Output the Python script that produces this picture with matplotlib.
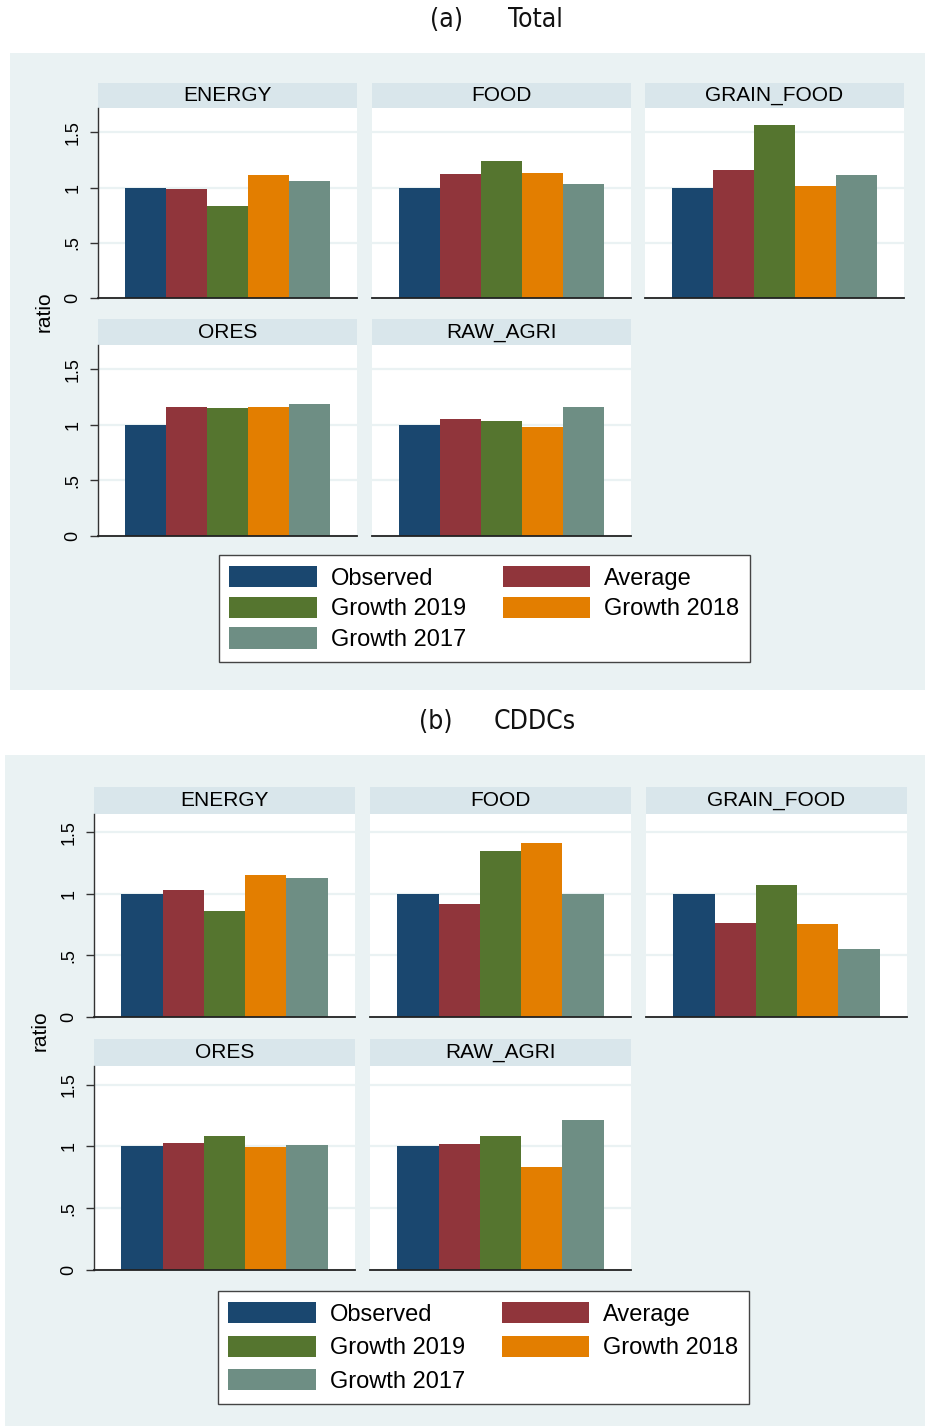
import matplotlib.pyplot as plt
from matplotlib.patches import Rectangle, Patch

W, H = 925, 1426

categories = ["ENERGY", "FOOD", "GRAIN_FOOD", "ORES", "RAW_AGRI"]
series = ["Observed", "Average", "Growth 2019", "Growth 2018", "Growth 2017"]
colors = ["#1a476f", "#90353b", "#55752f", "#e37e00", "#6e8e84"]

# (a) Total: one list per category, in series order
total_energy = [1.0, 0.99, 0.835, 1.11, 1.055]
total_food = [1.0, 1.12, 1.24, 1.135, 1.03]
total_grain_food = [1.0, 1.16, 1.565, 1.01, 1.115]
total_ores = [1.0, 1.165, 1.157, 1.165, 1.19]
total_raw_agri = [1.0, 1.057, 1.04, 0.985, 1.16]

# (b) CDDCs
cddc_energy = [1.0, 1.035, 0.86, 1.152, 1.127]
cddc_food = [1.0, 0.92, 1.352, 1.417, 1.0]
cddc_grain_food = [1.0, 0.762, 1.07, 0.758, 0.556]
cddc_ores = [1.0, 1.024, 1.087, 0.997, 1.011]
cddc_raw_agri = [1.0, 1.016, 1.082, 0.837, 1.215]

yticks = [0, 0.5, 1, 1.5]
ytick_labels = ["0", ".5", "1", "1.5"]

plt.rcParams['font.family'] = ['Liberation Sans', 'DejaVu Sans']

BG = "#eaf2f3"
STRIP = "#d9e6eb"

fig = plt.figure(figsize=(W / 100, H / 100), dpi=100)
fig.patch.set_facecolor("white")


def add_axes_px(x0, y0, x1, y1):
    return fig.add_axes([x0 / W, 1 - y1 / H, (x1 - x0) / W, (y1 - y0) / H])


panels = [
    dict(label="(a)", name="Total", lab_x=446, name_x=535, title_y=20,
         bg=(10, 53, 925, 690),
         cols=[(98, 357), (372, 631), (645, 904)],
         rows=[(83, 108, 298), (319, 345, 536)],
         ymax=1.72, ratio=(44, 312), leg=(484.5, 608.5), lspace=0.3,
         data=[total_energy, total_food, total_grain_food, total_ores, total_raw_agri]),
    dict(label="(b)", name="CDDCs", lab_x=436, name_x=535, title_y=722,
         bg=(5, 755, 925, 1426),
         cols=[(94, 355), (370, 631), (646, 907)],
         rows=[(787, 814, 1017), (1039, 1066, 1270)],
         ymax=1.65, ratio=(40, 1031), leg=(483.5, 1347.5), lspace=0.42,
         data=[cddc_energy, cddc_food, cddc_grain_food, cddc_ores, cddc_raw_agri]),
]

for p in panels:
    x0, y0, x1, y1 = p["bg"]
    fig.add_artist(Rectangle((x0 / W, 1 - y1 / H), (x1 - x0) / W, (y1 - y0) / H,
                             transform=fig.transFigure, facecolor=BG,
                             edgecolor="none", zorder=-1))
    ty = 1 - p["title_y"] / H
    for txt, tx in [(p["label"], p["lab_x"]), (p["name"], p["name_x"])]:
        fig.text(tx / W, ty, txt, ha="center", va="center", fontsize=19,
                 family=['Liberation Sans Narrow', 'DejaVu Sans'],
                 stretch="condensed", color="#111111")

    for i, (cat, vals) in enumerate(zip(categories, p["data"])):
        r, c = divmod(i, 3)
        cx0, cx1 = p["cols"][c]
        sy0, sy1, py1 = p["rows"][r]
        # strip header
        sax = add_axes_px(cx0, sy0, cx1, sy1)
        sax.set_facecolor(STRIP)
        sax.set_xticks([])
        sax.set_yticks([])
        for s in sax.spines.values():
            s.set_visible(False)
        sax.text(0.5, 0.5, cat, ha="center", va="center", fontsize=15,
                 transform=sax.transAxes)
        # plot area
        ax = add_axes_px(cx0, sy1, cx1, py1)
        ax.set_facecolor("white")
        ax.bar(range(len(vals)), vals, width=1.0, color=colors, zorder=3,
               edgecolor="none")
        ax.set_xlim(-1.16, len(vals) - 1 + 1.16)
        ax.set_ylim(0, p["ymax"])
        ax.set_xticks([])
        ax.set_yticks(yticks)
        ax.yaxis.grid(True, color=BG, linewidth=1.6, zorder=0)
        ax.spines["top"].set_visible(False)
        ax.spines["right"].set_visible(False)
        ax.spines["bottom"].set_color("#222222")
        ax.spines["bottom"].set_linewidth(1.3)
        ax.spines["bottom"].set_zorder(4)
        if c == 0:
            ax.spines["left"].set_color("#333333")
            ax.spines["left"].set_linewidth(1.0)
            ax.set_yticklabels(ytick_labels, rotation=90, va="center",
                               fontsize=13)
            ax.tick_params(axis="y", length=6, width=1.0, color="#333333",
                           pad=6)
        else:
            ax.spines["left"].set_visible(False)
            ax.tick_params(axis="y", length=0, labelleft=False)

    rx, ry = p["ratio"]
    fig.text(rx / W, 1 - ry / H, "ratio", rotation=90, ha="center",
             va="center", fontsize=15)

    handles = [Patch(facecolor=colors[k], edgecolor="none") for k in range(5)]
    order = [0, 2, 4, 1, 3]
    lx, ly = p["leg"]
    leg = fig.legend([handles[k] for k in order], [series[k] for k in order],
                     loc="center", bbox_to_anchor=(lx / W, 1 - ly / H),
                     ncol=2, fontsize=17, handlelength=3.7, handleheight=1.0,
                     labelspacing=p["lspace"], columnspacing=1.55,
                     handletextpad=0.6, borderpad=0.45, frameon=True,
                     fancybox=False, framealpha=1, edgecolor="#444444")
    leg.get_frame().set_linewidth(1.0)

fig.savefig("out.png", dpi=100)
